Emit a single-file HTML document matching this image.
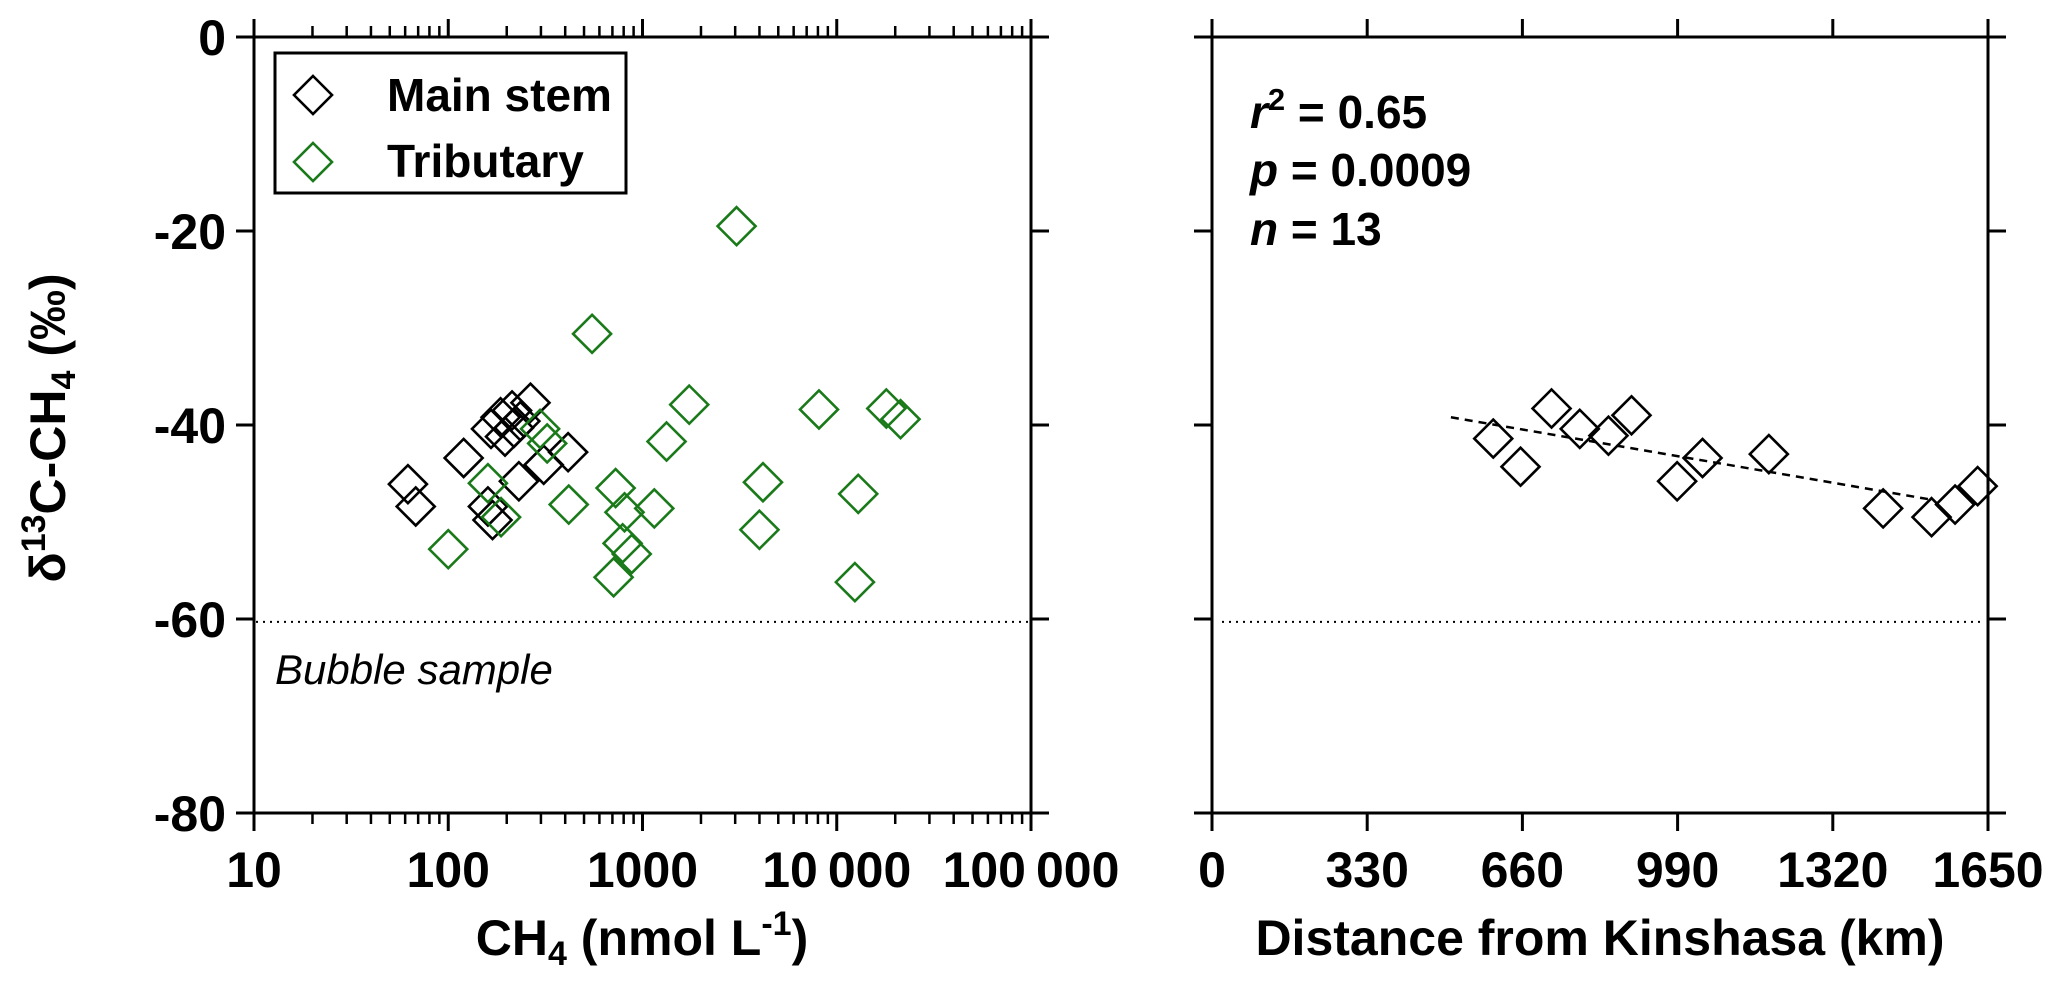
<!DOCTYPE html>
<html><head><meta charset="utf-8">
<style>
html,body{margin:0;padding:0;background:#fff;}
svg{display:block;font-family:"Liberation Sans",Arial,sans-serif;}
</style></head>
<body>
<svg id="chart" width="2067" height="992" viewBox="0 0 2067 992" xmlns="http://www.w3.org/2000/svg"></svg>
<script>
// ---- data ----
const mainCH4 = [62, 68, 120, 166, 186, 213, 265, 196, 218, 235, 310, 414, 231, 160, 169];
const mainD13 = [-46.1, -48.4, -43.4, -40.4, -39.2, -38.5, -37.7, -41.2, -40.3, -39.6, -44.1, -42.8, -45.8, -48.4, -49.8];
const tribCH4 = [3050, 550, 1740, 8100, 18000, 21300, 1330, 297, 323, 160, 417, 727, 808, 1150, 4170, 4000, 12900, 12400, 100, 187, 790, 880, 710];
const tribD13 = [-19.5, -30.6, -37.9, -38.4, -38.3, -39.4, -41.7, -40.4, -41.9, -46.0, -48.2, -46.5, -49.0, -48.6, -45.9, -50.8, -47.1, -56.2, -52.8, -49.5, -52.2, -53.3, -55.7];
const distKm = [598, 656, 722, 782, 843, 892, 989, 1043, 1184, 1427, 1530, 1580, 1628];
const distD13 = [-41.4, -44.3, -38.3, -40.4, -41.1, -39.0, -45.8, -43.4, -43.0, -48.6, -49.5, -48.2, -46.3];
const fitX = [508, 1530];
const fitY = [-39.2, -47.7];
const bubbleD13 = -60.3;
const yTicks = [0, -20, -40, -60, -80];
const logTicks = [10, 100, 1000, 10000, 100000];
const logTickLabels = ["10", "100", "1000", "10\u2009000", "100\u2009000"];
const distTicks = [0, 330, 660, 990, 1320, 1650];

// ---- scales ----
const svg = document.getElementById('chart');
const NS = 'http://www.w3.org/2000/svg';
const yTop = 37, yBot = 813;
function Y(v){ return yTop + (0 - v) / 80 * (yBot - yTop); }
const L0 = 254, L1 = 1031;
function XL(v){ return L0 + (Math.log10(v) - 1) / 4 * (L1 - L0); }
const R0 = 1212, R1 = 1988;
function XR(v){ return R0 + v / 1650 * (R1 - R0); }

function el(tag, attrs, parent){
  const e = document.createElementNS(NS, tag);
  for (const k in attrs) e.setAttribute(k, attrs[k]);
  (parent || svg).appendChild(e);
  return e;
}
function line(x1,y1,x2,y2,extra){
  return el('line', Object.assign({x1:x1,y1:y1,x2:x2,y2:y2,stroke:'#000','stroke-width':3}, extra||{}));
}
function diamond(cx, cy, color, g){
  const r = 19;
  return el('polygon', {points:`${cx},${cy-r} ${cx+r},${cy} ${cx},${cy+r} ${cx-r},${cy}`, fill:'none', stroke:color, 'stroke-width':2.6}, g);
}
function text(x, y, s, attrs, parent){
  const t = el('text', Object.assign({x:x, y:y, 'font-size':50, 'font-weight':'bold', fill:'#000'}, attrs||{}), parent);
  t.textContent = s;
  return t;
}

// ---- left panel frame ----
const lf = el('g', {});


el('rect', {x:L0, y:yTop, width:L1-L0, height:yBot-yTop, fill:'none', stroke:'#000', 'stroke-width':3}, lf);
yTicks.forEach(v => {
  line(L0-18, Y(v), L0, Y(v));
  line(L1, Y(v), L1+18, Y(v));
  const t = text(226, Y(v)+18, String(v), {'text-anchor':'end'});
  
  
});
for (let d = 1; d <= 4; d++) {
  for (let m = 2; m <= 9; m++) {
    const x = XL(m * Math.pow(10, d));
    line(x, yBot, x, yBot+11, {'stroke-width':2.5});
    line(x, yTop, x, yTop-11, {'stroke-width':2.5});
  }
}
logTicks.forEach((v, i) => {
  line(XL(v), yBot, XL(v), yBot+18);
  line(XL(v), yTop, XL(v), yTop-18);
  const t = text(XL(v), 887, logTickLabels[i], {'text-anchor':'middle'});
  
  
});
const bl = line(L0+2, Y(bubbleD13), L1-2, Y(bubbleD13), {'stroke-width':2, 'stroke-dasharray':'2 5'});


const bt = text(275, 684, 'Bubble sample', {'font-weight':'normal', 'font-style':'italic', 'font-size':42});



// legend
const lg = el('g', {});


el('rect', {x:275, y:53, width:351, height:140, fill:'#fff', stroke:'#000', 'stroke-width':3}, lg);
diamond(313, 95, '#000', lg);
diamond(313, 162, '#1a7a1a', lg);
const le1 = text(387, 111, 'Main stem', {'font-size':46}, lg);


const le2 = text(387, 177, 'Tributary', {'font-size':46}, lg);



// series left
const gm = el('g', {});


mainCH4.forEach((v, i) => {
  const p = diamond(XL(v), Y(mainD13[i]), '#000', gm);
  
  
});
const gt = el('g', {});


tribCH4.forEach((v, i) => {
  const p = diamond(XL(v), Y(tribD13[i]), '#1a7a1a', gt);
  
  
});

// axis titles left
const yt = el('text', {x:0, y:0, 'font-size':50, 'font-weight':'bold', 'text-anchor':'middle', transform:'translate(65,428) rotate(-90)'});


yt.innerHTML = 'δ<tspan font-size="34" dy="-20">13</tspan><tspan dy="20">C-CH</tspan><tspan font-size="34" dy="10">4</tspan><tspan dy="-10"> (‰)</tspan>';
const xt = el('text', {x:642, y:955, 'font-size':50, 'font-weight':'bold', 'text-anchor':'middle'});


xt.innerHTML = 'CH<tspan font-size="34" dy="10">4</tspan><tspan dy="-10"> (nmol L</tspan><tspan font-size="34" dy="-20">-1</tspan><tspan dy="20">)</tspan>';

// ---- right panel ----
const rf = el('g', {});


el('rect', {x:R0, y:yTop, width:R1-R0, height:yBot-yTop, fill:'none', stroke:'#000', 'stroke-width':3}, rf);
yTicks.forEach(v => {
  line(R0-18, Y(v), R0, Y(v));
  line(R1, Y(v), R1+18, Y(v));
});
distTicks.forEach(v => {
  line(XR(v), yBot, XR(v), yBot+18);
  line(XR(v), yTop, XR(v), yTop-18);
  const t = text(XR(v), 887, String(v), {'text-anchor':'middle'});
  
  
});
const bl2 = line(R0+10, Y(bubbleD13), R1-4, Y(bubbleD13), {'stroke-width':2, 'stroke-dasharray':'2 5'});


const fit = line(XR(fitX[0]), Y(fitY[0]), XR(fitX[1]), Y(fitY[1]), {'stroke-width':2.5, 'stroke-dasharray':'8 6'});


const gd = el('g', {});


distKm.forEach((v, i) => {
  const p = diamond(XR(v), Y(distD13[i]), '#000', gd);
  
  
});
const st = el('g', {});


const s1 = el('text', {x:1250, y:128, 'font-size':46, 'font-weight':'bold'}, st);
s1.innerHTML = '<tspan font-style="italic">r</tspan><tspan font-size="31" dy="-18">2</tspan><tspan dy="18"> = 0.65</tspan>';
const s2 = el('text', {x:1250, y:186, 'font-size':46, 'font-weight':'bold'}, st);
s2.innerHTML = '<tspan font-style="italic">p</tspan> = 0.0009';
const s3 = el('text', {x:1250, y:245, 'font-size':46, 'font-weight':'bold'}, st);
s3.innerHTML = '<tspan font-style="italic">n</tspan> = 13';
const xt2 = text(1600, 955, 'Distance from Kinshasa (km)', {'text-anchor':'middle'});


</script>
</body></html>
